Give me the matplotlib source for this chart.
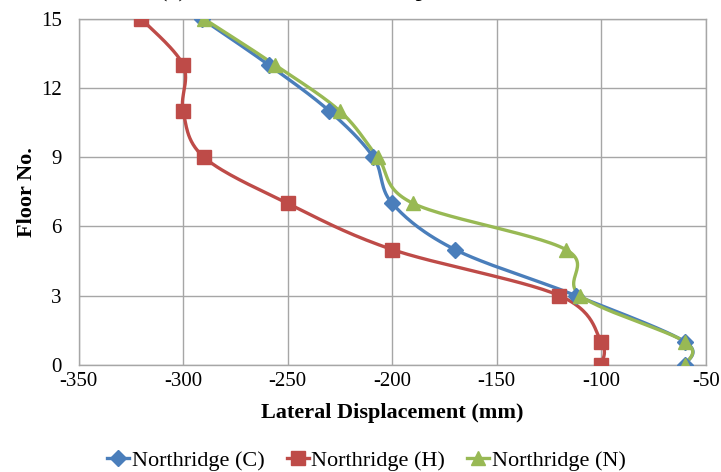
import numpy as np
import matplotlib.pyplot as plt

# Peak lateral displacement per floor, Northridge record, three models
floors = [0, 1, 3, 5, 7, 9, 11, 13, 15]
disp_c = [-60, -60, -112, -170, -200, -209, -230, -259, -291]
disp_h = [-100, -100, -120, -200, -250, -290, -300, -300, -320]
disp_n = [-60, -60, -110, -117, -190, -207, -225, -256, -290]
labels = ['Northridge (C)', 'Northridge (H)', 'Northridge (N)']

plt.rcParams['font.family'] = ['Liberation Serif', 'DejaVu Serif']
plt.rcParams['axes.unicode_minus'] = False


def smooth(x, y, n=30):
    # cubic bezier through the points, Excel style smoothed line
    p = np.column_stack([x, y]).astype(float)
    ext = np.vstack([p[0], p, p[-1]])
    out = []
    t = np.linspace(0, 1, n)[:, None]
    for i in range(len(p) - 1):
        p0, p1, p2, p3 = ext[i], ext[i + 1], ext[i + 2], ext[i + 3]
        c1 = p1 + (p2 - p0) / 6.0
        c2 = p2 - (p3 - p1) / 6.0
        seg = ((1 - t) ** 3) * p1 + 3 * ((1 - t) ** 2) * t * c1 \
            + 3 * (1 - t) * t ** 2 * c2 + t ** 3 * p2
        out.append(seg if i == 0 else seg[1:])
    out = np.vstack(out)
    return out[:, 0], out[:, 1]


fig = plt.figure(figsize=(7.21, 4.72), dpi=100)
ax = fig.add_axes([0.109, 0.227, 0.870, 0.733])

series = [
    (disp_c, '#4A7EBB', 'D', 8),
    (disp_h, '#BE4B48', 's', 10),
    (disp_n, '#98B954', '^', 10),
]
for (vals, col, mk, ms), lab in zip(series, labels):
    sx, sy = smooth(vals, floors)
    ax.plot(sx, sy, color=col, lw=2.4, solid_capstyle='round', zorder=3)
    ax.plot(vals, floors, ls='none', marker=mk, ms=ms, color=col,
            markeredgecolor=col, zorder=4)
    ax.plot([], [], color=col, lw=2.4, marker=mk, ms=ms, label=lab)

ax.set_xlim(-350, -50)
ax.set_ylim(0, 15)
ax.set_xticks(np.arange(-350, -49, 50))
ax.set_yticks(np.arange(0, 16, 3))
ax.grid(True, color='#A6A6A6', lw=1.0)
ax.set_axisbelow(True)
for s in ax.spines.values():
    s.set_color('#A6A6A6')
    s.set_linewidth(1.0)
ax.tick_params(length=0, labelsize=15, colors='black')
ax.tick_params(axis='x', pad=5)
ax.tick_params(axis='y', pad=12)
ax.set_xlabel('Lateral Displacement (mm)', fontsize=16, fontweight='bold',
              labelpad=9)
ax.set_ylabel('Floor No.', fontsize=16, fontweight='bold', labelpad=3)

fig.text(0.47, 0.995, '(c) Maximum Lateral Displacement', fontsize=18,
         ha='center', va='bottom')

fig.legend(loc='lower center', bbox_to_anchor=(0.508, -0.04), ncol=3,
           frameon=False, fontsize=16, handlelength=1.0, handletextpad=0.1,
           columnspacing=1.0)

fig.savefig('out.png', dpi=100)
